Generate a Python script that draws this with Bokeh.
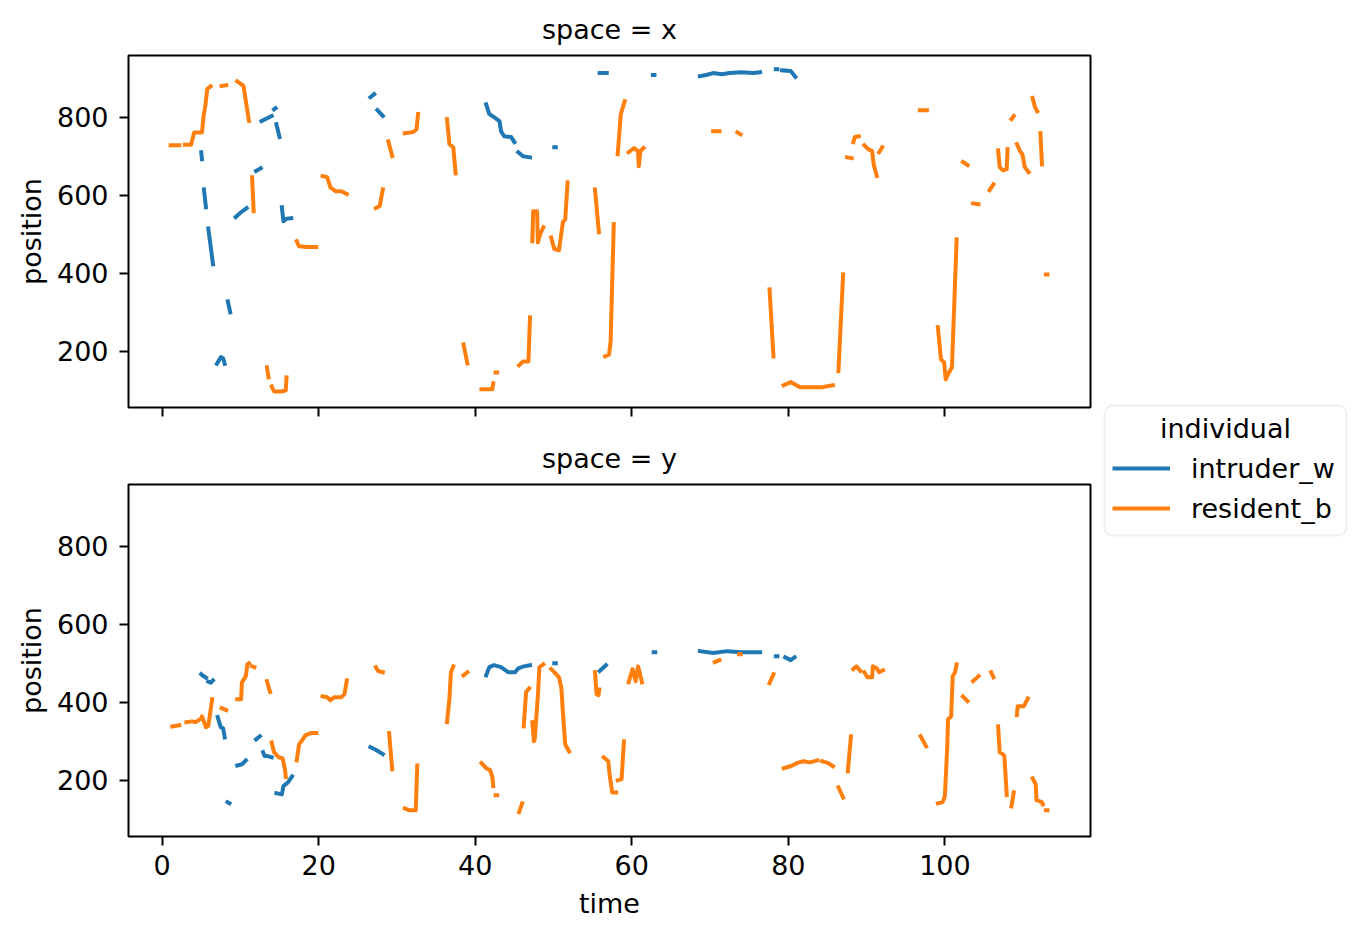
import math
from bokeh.plotting import figure
from bokeh.layouts import row, column
from bokeh.models import Range1d, FixedTicker, Legend, LegendItem, Label, BoxAnnotation
from bokeh.embed import file_html
from bokeh.resources import INLINE

# ---------------- data (time, position) segments; gaps = missing values ----------------
individuals = ["intruder_w", "resident_b"]
spaces = ["x", "y"]
time_ticks = [0, 20, 40, 60, 80, 100]
position_ticks = [200, 400, 600, 800]

intruder_w_x = [
    [(5.0, 710), (5.1, 692)],
    [(5.35, 615), (5.6, 569)],
    [(5.9, 515), (6.2, 470), (6.5, 423)],
    [(7.0, 168), (7.5, 185), (7.8, 182), (8.0, 168)],
    [(8.4, 328), (8.7, 300)],
    [(9.4, 544), (10.0, 555), (10.8, 567)],
    [(12.0, 662), (12.6, 669)],
    [(12.7, 790), (13.5, 798), (14.0, 803)],
    [(14.3, 820), (14.5, 823)],
    [(14.6, 782), (15.0, 749)],
    [(15.3, 569), (15.5, 533), (15.9, 540), (16.5, 541)],
    [(26.6, 851), (27.1, 859)],
    [(27.5, 818), (28.2, 803)],
    [(41.4, 833), (41.8, 808), (42.4, 800), (43.1, 790), (43.3, 764), (43.7, 751), (44.6, 749), (45.0, 736)],
    [(45.5, 710), (46.1, 700), (47.0, 697)],
    [(50.1, 723), (50.3, 723)],
    [(55.9, 913), (56.8, 913)],
    [(62.7, 908), (62.9, 908)],
    [(68.7, 905), (69.5, 908), (70.4, 913), (71.5, 910), (72.5, 913), (74.0, 915), (75.5, 913), (76.4, 915)],
    [(78.4, 923), (78.6, 923)],
    [(79.2, 920), (80.3, 918), (80.9, 903)],
]

intruder_w_y = [
    [(5.0, 472), (5.15, 469)],
    [(5.4, 466), (5.6, 463)],
    [(5.9, 453), (6.2, 450), (6.5, 456)],
    [(7.1, 362), (7.5, 336), (7.8, 333), (8.0, 310)],
    [(8.35, 144), (8.6, 141)],
    [(9.6, 238), (10.2, 241), (10.7, 251)],
    [(12.0, 305), (12.5, 313)],
    [(12.9, 272), (13.1, 262), (13.5, 262), (14.0, 259)],
    [(14.6, 167), (15.3, 164), (15.5, 185), (16.1, 195), (16.6, 210)],
    [(26.6, 285), (27.4, 277), (28.2, 267)],
    [(41.4, 469), (41.8, 490), (42.4, 495), (43.3, 490), (44.2, 477), (45.1, 477), (45.5, 487), (46.2, 492), (47.0, 495)],
    [(50.1, 500), (50.3, 500)],
    [(55.9, 480), (56.7, 495)],
    [(62.8, 528), (63.0, 528)],
    [(68.7, 531), (70.4, 526), (72.2, 531), (73.9, 528), (76.4, 528)],
    [(78.4, 518), (78.6, 518)],
    [(79.6, 515), (80.3, 508), (80.8, 515)],
]

resident_b_x = [
    [(1.1, 728), (2.2, 728)],
    [(2.9, 729), (3.7, 729), (3.9, 745), (4.1, 761), (5.1, 761), (5.3, 803), (5.55, 833), (5.77, 872), (6.2, 879)],
    [(7.6, 880), (8.2, 882)],
    [(9.6, 892), (10.4, 880), (10.6, 854), (11.1, 790)],
    [(11.5, 646), (11.7, 559)],
    [(13.4, 159), (13.6, 133)],
    [(14.0, 110), (14.3, 97), (15.3, 97), (15.8, 100), (15.9, 133)],
    [(17.2, 482), (17.5, 469), (18.5, 467), (19.7, 467)],
    [(20.5, 649), (21.1, 646), (21.5, 620), (22.2, 610), (22.9, 610), (23.6, 603)],
    [(27.3, 567), (27.8, 572), (28.2, 615)],
    [(28.9, 738), (29.4, 700)],
    [(31.0, 759), (32.1, 762), (32.5, 769), (32.7, 808)],
    [(36.4, 795), (36.7, 731), (37.2, 723), (37.5, 656)],
    [(38.5, 218), (39.0, 169)],
    [(40.8, 103), (42.2, 103), (42.3, 118)],
    [(42.6, 146), (42.8, 146)],
    [(45.6, 164), (46.1, 174), (46.8, 174), (47.0, 287)],
    [(47.3, 482), (47.4, 559), (47.9, 559), (48.0, 479), (48.3, 500), (48.7, 518)],
    [(49.7, 492), (50.1, 462), (50.7, 459), (51.2, 531), (51.5, 538), (51.8, 633)],
    [(55.3, 615), (55.8, 505)],
    [(56.6, 187), (57.1, 192), (57.3, 226), (57.7, 526)],
    [(58.2, 705), (58.6, 808), (59.1, 841)],
    [(59.6, 710), (60.3, 721), (60.8, 713), (60.9, 674), (61.1, 713), (61.5, 721)],
    [(70.4, 764), (71.2, 764)],
    [(73.5, 761), (73.9, 756)],
    [(77.6, 359), (78.1, 187)],
    [(79.4, 113), (80.3, 121), (81.5, 108), (83.8, 108)],
    [(84.3, 108), (85.7, 113)],
    [(86.4, 149), (87.0, 397)],
    [(87.5, 697), (88.1, 695)],
    [(88.3, 736), (88.5, 749), (89.0, 751)],
    [(89.7, 728), (90.2, 718), (90.7, 713), (90.9, 679), (91.3, 649)],
    [(91.6, 710), (92.0, 723)],
    [(96.8, 818), (97.7, 818)],
    [(99.1, 262), (99.5, 179), (99.9, 172), (100.1, 128), (100.4, 141), (100.9, 159), (101.5, 487)],
    [(102.3, 685), (102.9, 677)],
    [(103.6, 579), (104.3, 577)],
    [(105.7, 613), (106.2, 628)],
    [(106.8, 715), (107.0, 672), (107.4, 664), (107.9, 667), (108.0, 718)],
    [(108.5, 795), (108.8, 803)],
    [(109.2, 731), (109.6, 713), (109.9, 705), (110.2, 672), (110.7, 659)],
    [(111.2, 849), (111.5, 826), (111.8, 815)],
    [(112.2, 759), (112.4, 679)],
    [(112.9, 397), (113.1, 397)],
]

resident_b_y = [
    [(1.3, 338), (2.2, 341)],
    [(3.1, 349), (3.8, 351), (4.3, 349), (5.0, 359), (5.1, 364), (5.6, 336), (5.9, 339), (6.4, 408)],
    [(7.6, 385), (8.2, 380)],
    [(9.6, 408), (10.1, 408), (10.2, 451), (10.7, 467), (10.9, 497), (11.1, 500)],
    [(11.5, 492), (11.8, 490)],
    [(13.4, 454), (13.8, 426)],
    [(14.0, 297), (14.3, 272), (14.9, 259), (15.4, 256), (15.7, 228), (15.8, 208)],
    [(17.2, 251), (17.5, 292), (17.8, 300), (18.3, 315), (19.0, 321), (19.7, 321)],
    [(20.5, 415), (21.1, 413), (21.5, 405), (22.0, 413), (22.9, 413), (23.3, 421), (23.6, 456)],
    [(27.3, 490), (27.6, 480), (28.2, 477)],
    [(29.0, 321), (29.4, 228)],
    [(31.0, 128), (31.6, 123), (32.4, 123), (32.6, 238)],
    [(36.4, 349), (36.7, 408), (36.9, 477), (37.2, 492)],
    [(38.5, 469), (39.0, 477)],
    [(40.8, 244), (41.4, 231), (41.9, 226), (42.2, 208), (42.3, 185)],
    [(42.6, 162), (42.8, 162)],
    [(45.6, 118), (46.0, 141)],
    [(46.2, 338), (46.5, 426), (46.9, 436)],
    [(47.3, 349), (47.5, 300), (47.6, 305), (48.0, 415), (48.2, 490), (48.7, 497)],
    [(49.7, 485), (50.1, 477), (50.7, 464), (51.0, 438), (51.2, 374), (51.5, 292), (52.0, 274)],
    [(55.3, 477), (55.5, 421), (55.75, 418), (55.85, 433)],
    [(56.4, 259), (57.0, 249), (57.2, 210), (57.5, 169), (58.0, 169)],
    [(58.2, 200), (58.7, 203), (59.0, 300)],
    [(59.6, 451), (60.1, 485), (60.5, 454), (60.8, 492), (61.0, 477), (61.3, 451)],
    [(70.6, 503), (71.2, 508)],
    [(73.7, 523), (73.9, 523)],
    [(77.6, 449), (78.1, 472)],
    [(79.4, 231), (80.3, 236), (81.1, 244), (81.9, 249), (82.8, 246), (83.7, 251)],
    [(84.3, 249), (85.1, 244), (85.7, 236)],
    [(86.4, 182), (87.0, 156)],
    [(87.6, 223), (88.0, 313)],
    [(88.3, 485), (88.7, 492), (89.2, 480)],
    [(89.7, 477), (90.1, 464), (90.7, 464), (90.8, 492), (91.3, 487), (91.6, 477), (92.1, 482)],
    [(96.9, 313), (97.6, 287)],
    [(99.1, 141), (99.7, 144), (100.0, 159), (100.3, 287), (100.4, 356), (100.8, 364), (101.0, 467), (101.3, 477), (101.5, 497)],
    [(102.3, 415), (102.9, 403)],
    [(103.6, 454), (104.3, 467)],
    [(105.9, 477), (106.2, 464)],
    [(106.8, 338), (107.0, 272), (107.4, 267), (107.6, 262), (107.9, 162)],
    [(108.5, 133), (108.8, 169)],
    [(109.2, 367), (109.3, 390), (110.1, 390), (110.6, 410)],
    [(111.2, 205), (111.6, 190), (111.7, 149), (112.4, 144), (112.5, 138)],
    [(112.9, 123), (113.1, 123)],
]

series = {
    ("intruder_w", "x"): intruder_w_x,
    ("intruder_w", "y"): intruder_w_y,
    ("resident_b", "x"): resident_b_x,
    ("resident_b", "y"): resident_b_y,
}
colors = {"intruder_w": "#1f77b4", "resident_b": "#ff7f0e"}


def flatten(segs):
    t, v = [], []
    for seg in segs:
        for a, b in seg:
            t.append(a)
            v.append(b)
        t.append(math.nan)
        v.append(math.nan)
    return t, v


# ---------------- styling ----------------
FONT = "DejaVu Sans"
FS = "27px"
FRAME_W, FRAME_H = 962, 352
LEFT, RIGHT = 128, 6
TOP1, BOT1, TOP2, BOT2 = 55, 23, 54, 93
x_rng = Range1d(-4.29, 118.6)
y_rng = Range1d(56, 958)


def make_panel(space, bottom):
    p = figure(frame_width=FRAME_W, frame_height=FRAME_H, x_range=x_rng, y_range=y_rng,
               output_backend="svg", toolbar_location=None,
               min_border_left=LEFT, min_border_right=RIGHT,
               min_border_top=TOP2 if bottom else TOP1,
               min_border_bottom=BOT2 if bottom else BOT1)
    p.title.text = f"space = {space}"
    p.title.align = "center"
    p.title.text_font = FONT
    p.title.text_font_size = FS
    p.title.text_font_style = "normal"
    p.title.text_color = "black"
    p.title.standoff = 21
    p.xgrid.visible = False
    p.ygrid.visible = False
    p.outline_line_color = "black"
    p.outline_line_width = 2
    p.outline_line_alpha = 1
    p.xaxis.ticker = FixedTicker(ticks=time_ticks)
    p.yaxis.ticker = FixedTicker(ticks=position_ticks)
    for ax in (p.xaxis[0], p.yaxis[0]):
        ax.axis_line_color = None
        ax.major_tick_in = 0
        ax.major_tick_out = 9
        ax.major_tick_line_width = 2
        ax.major_tick_line_color = "black"
        ax.minor_tick_line_color = None
        ax.major_label_text_font = FONT
        ax.major_label_text_font_size = FS
        ax.major_label_text_color = "black"
        ax.axis_label_text_font = FONT
        ax.axis_label_text_font_size = FS
        ax.axis_label_text_font_style = "normal"
        ax.axis_label_text_color = "black"
    p.yaxis.axis_label = "position"
    p.yaxis.major_label_standoff = 11
    p.yaxis.axis_label_standoff = 7
    if bottom:
        p.xaxis.axis_label = "time"
        p.xaxis.major_label_standoff = 9
        p.xaxis.axis_label_standoff = 10
    else:
        p.xaxis.major_label_overrides = {t: "" for t in time_ticks}
        p.xaxis.major_label_text_font_size = "0px"
        p.xaxis.major_label_standoff = 0
    for ind in individuals:
        t, v = flatten(series[(ind, space)])
        p.line(t, v, line_color=colors[ind], line_width=4, line_join="round", line_cap="square")
    return p


top = make_panel("x", False)
bot = make_panel("y", True)

# ---------------- legend panel ----------------
LW, LH = 254, TOP1 + FRAME_H + BOT1 + TOP2 + FRAME_H + BOT2
lf = figure(width=LW, height=LH, x_range=Range1d(0, LW), y_range=Range1d(0, LH),
            x_axis_location=None, y_axis_location=None, min_border=0,
            toolbar_location=None, output_backend="svg", title=None)
lf.outline_line_color = None
lf.xgrid.visible = False
lf.ygrid.visible = False

box = BoxAnnotation(left=8, right=250, bottom=394, top=524, fill_color="white", fill_alpha=1,
                    line_color="#cccccc", line_width=2, border_radius=8)
lf.add_layout(box)

items = []
for ind in individuals:
    # legend-only handle (no visible data in this panel)
    r = lf.line([math.nan], [math.nan], line_color=colors[ind], line_width=4)
    items.append(LegendItem(label=ind, renderers=[r]))
leg = Legend(items=items, location=(16, 405), glyph_width=58, glyph_height=32, label_height=32,
             label_standoff=21, spacing=8, padding=0, margin=0, border_line_color=None,
             background_fill_alpha=0, label_text_font=FONT, label_text_font_size=FS,
             label_text_color="black")
lf.add_layout(leg)
lf.add_layout(Label(x=129, y=501, text="individual", text_align="center", text_baseline="middle",
                    text_font=FONT, text_font_size=FS, text_color="black"))

layout = row(column(top, bot), lf)
open("out.html", "w").write(file_html(layout, INLINE))
